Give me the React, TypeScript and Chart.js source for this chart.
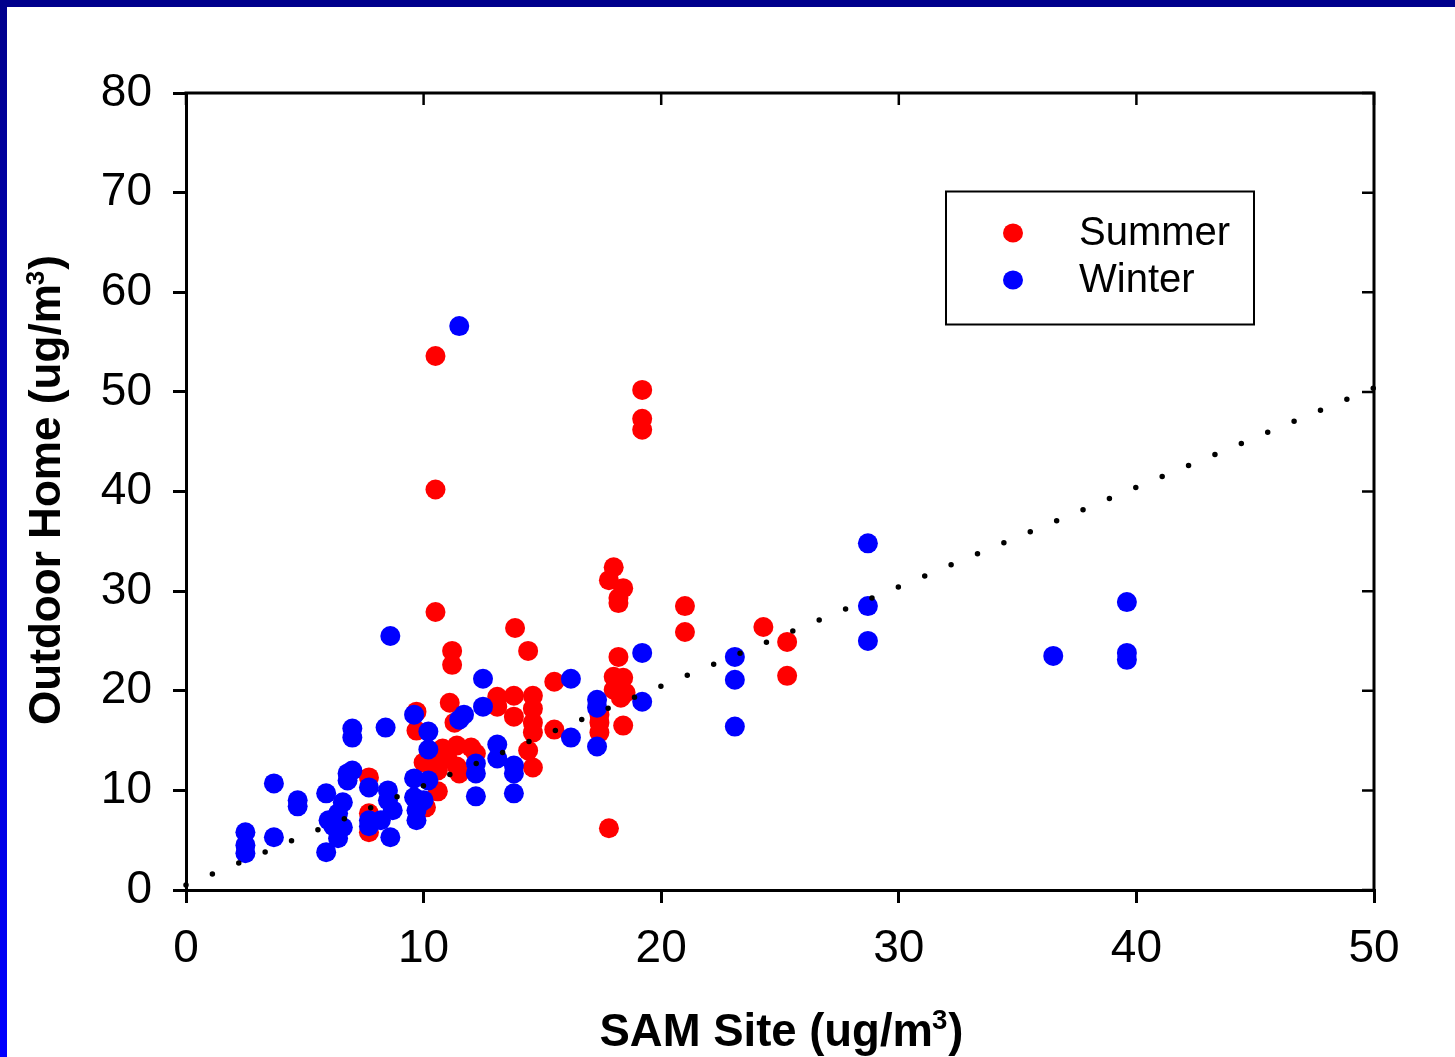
import React, { useEffect, useRef } from "react";
import { Chart, registerables } from "chart.js";

Chart.register(...registerables);

// ---- Data ----
const seriesLabels = ["Summer", "Winter"];

const summerX = [
  10.5, 10.5, 10.5, 11.2, 11.2, 13.85, 14.4, 19.2, 19.2, 19.2,
  18.0, 17.8, 18.4, 18.2, 18.2, 21.0, 21.0, 24.3, 25.3, 25.3,
  17.8, 15.5, 15.5, 18.2, 18.0, 18.4, 18.0, 18.5, 18.3, 17.4,
  17.4, 17.4, 18.4, 13.1, 13.1, 13.8, 14.6, 14.6, 13.8, 14.6,
  14.6, 14.4, 14.6, 11.1, 11.3, 9.7, 9.7, 10.3, 10.8, 11.4,
  12.0, 12.2, 11.4, 10.6, 10.0, 11.0, 11.5, 10.6, 10.1, 7.7,
  7.7, 7.7,
];
const summerY = [
  53.6, 40.2, 27.9, 24.0, 22.6, 26.3, 24.0, 50.2, 47.3, 46.2,
  32.4, 31.1, 30.3, 29.3, 28.8, 28.5, 25.9, 26.4, 24.9, 21.5,
  6.2, 20.9, 16.1, 23.4, 21.4, 21.3, 20.1, 19.8, 19.3, 17.6,
  16.8, 15.8, 16.5, 19.4, 18.4, 19.5, 19.5, 18.2, 17.4, 16.8,
  15.8, 14.0, 12.3, 18.8, 16.8, 17.9, 16.0, 13.0, 14.2, 14.5,
  14.3, 13.7, 12.4, 12.0, 12.8, 13.2, 11.7, 9.9, 8.3, 11.3,
  7.7, 5.8,
];

const winterX = [
  2.5, 2.5, 2.5, 3.7, 3.7, 4.7, 4.7, 5.9, 6.0, 6.2,
  5.9, 6.4, 6.6, 6.4, 6.6, 6.8, 7.0, 6.8, 7.0, 7.0,
  7.7, 7.7, 7.7, 8.2, 8.4, 8.5, 8.5, 8.7, 8.6, 8.6,
  9.6, 10.2, 10.2, 9.6, 10.2, 9.6, 10.0, 9.7, 9.7, 11.5,
  11.7, 11.5, 12.5, 12.5, 13.1, 13.1, 13.8, 13.8, 12.2, 12.2,
  12.2, 13.8, 16.2, 16.2, 17.3, 17.3, 17.3, 19.2, 19.2, 23.1,
  23.1, 23.1, 28.7, 28.7, 28.7, 36.5, 39.6, 39.6, 39.6,
];
const winterY = [
  5.8, 4.5, 3.7, 10.7, 5.3, 9.0, 8.4, 9.7, 7.0, 6.4,
  3.8, 7.7, 6.3, 5.2, 8.8, 11.7, 12.0, 11.0, 16.2, 15.3,
  10.3, 7.0, 6.4, 7.0, 16.3, 10.0, 9.0, 8.0, 25.5, 5.3,
  17.6, 15.9, 14.1, 11.2, 11.0, 9.3, 9.0, 8.0, 7.0, 56.6,
  17.6, 17.1, 21.2, 18.4, 14.6, 13.2, 12.5, 11.7, 12.7, 11.7,
  9.4, 9.7, 21.2, 15.3, 19.1, 18.3, 14.4, 23.8, 18.9, 23.4,
  21.1, 16.4, 34.8, 28.5, 25.0, 23.5, 28.9, 23.8, 23.1,
];

const trendX = [0, 50];
const trendY = [0.5, 50.4];

const xTickValues = [0, 10, 20, 30, 40, 50];
const yTickValues = [0, 10, 20, 30, 40, 50, 60, 70, 80];

const xTitleMain = "SAM Site (ug/m";
const yTitleMain = "Outdoor Home (ug/m";
const titleSup = "3";
const titleEnd = ")";

const FONT = "'Liberation Sans', Arial, Helvetica, sans-serif";
const CANVAS_W = 1448;
const CANVAS_H = 1050;

function drawTitle(
  ctx: CanvasRenderingContext2D,
  main: string,
  size: number,
  targetLen: number | null
) {
  const supSize = Math.round(size * 0.6);
  ctx.font = `bold ${size}px ${FONT}`;
  const w1 = ctx.measureText(main).width;
  const w3 = ctx.measureText(titleEnd).width;
  ctx.font = `bold ${supSize}px ${FONT}`;
  const w2 = ctx.measureText(titleSup).width;
  const total = w1 + w2 + w3;
  const sx = targetLen ? targetLen / total : 1;
  ctx.scale(sx, 1);
  let x = -total / 2;
  ctx.textAlign = "left";
  ctx.textBaseline = "alphabetic";
  ctx.fillStyle = "#000";
  ctx.font = `bold ${size}px ${FONT}`;
  ctx.fillText(main, x, 0);
  x += w1;
  ctx.font = `bold ${supSize}px ${FONT}`;
  ctx.fillText(titleSup, x - 1, -size * 0.36);
  x += w2;
  ctx.font = `bold ${size}px ${FONT}`;
  ctx.fillText(titleEnd, x, 0);
}

const overlayPlugin = {
  id: "overlay",
  afterDraw(chart: any) {
    const ctx: CanvasRenderingContext2D = chart.ctx;
    const { left, right, top, bottom } = chart.chartArea;
    const xs = chart.scales.x;
    const ys = chart.scales.y;
    ctx.save();
    // top and right frame with inward ticks
    ctx.strokeStyle = "#000";
    ctx.lineWidth = 3;
    ctx.beginPath();
    ctx.moveTo(left - 1.5, top);
    ctx.lineTo(right, top);
    ctx.lineTo(right, bottom + 1.5);
    ctx.stroke();
    ctx.lineWidth = 2.5;
    ctx.beginPath();
    for (const v of yTickValues) {
      const py = ys.getPixelForValue(v);
      ctx.moveTo(right - 12, py);
      ctx.lineTo(right, py);
    }
    for (const v of xTickValues) {
      const px = xs.getPixelForValue(v);
      ctx.moveTo(px, top);
      ctx.lineTo(px, top + 12);
    }
    ctx.stroke();

    // legend box
    const bx = 939, by = 184.5, bw = 308, bh = 133;
    ctx.lineWidth = 2;
    ctx.strokeRect(bx, by, bw, bh);
    const colors = ["#ff0000", "#0000ff"];
    const rowY = [226, 273];
    ctx.font = `40px ${FONT}`;
    ctx.textAlign = "left";
    ctx.textBaseline = "middle";
    seriesLabels.forEach((lab, i) => {
      ctx.fillStyle = colors[i];
      ctx.beginPath();
      ctx.ellipse(1006, rowY[i], 10, 9.5, 0, 0, Math.PI * 2);
      ctx.fill();
      ctx.fillStyle = "#000";
      ctx.fillText(lab, 1072, rowY[i] + 1);
    });
    ctx.restore();

    // x axis title
    ctx.save();
    ctx.translate((left + right) / 2 + 1.5, 1039);
    drawTitle(ctx, xTitleMain, 46, 364);
    ctx.restore();

    // y axis title
    ctx.save();
    ctx.translate(53, (top + bottom) / 2 - 1.5);
    ctx.rotate(-Math.PI / 2);
    drawTitle(ctx, yTitleMain, 44, 470);
    ctx.restore();
  },
};

export default function App() {
  const canvasRef = useRef<HTMLCanvasElement | null>(null);

  useEffect(() => {
    const canvas = canvasRef.current;
    if (!canvas) return;
    const tickFont = { family: FONT, size: 46 };
    const chart = new Chart(canvas, {
      type: "scatter",
      data: {
        datasets: [
          {
            label: seriesLabels[0],
            data: summerX.map((x, i) => ({ x, y: summerY[i] })),
            backgroundColor: "#ff0000",
            borderColor: "#ff0000",
            borderWidth: 0,
            pointRadius: 10,
            pointHoverRadius: 10,
            order: 2,
          },
          {
            label: seriesLabels[1],
            data: winterX.map((x, i) => ({ x, y: winterY[i] })),
            backgroundColor: "#0000ff",
            borderColor: "#0000ff",
            borderWidth: 0,
            pointRadius: 10,
            pointHoverRadius: 10,
            order: 1,
          },
          {
            type: "line",
            label: "trend",
            data: trendX.map((x, i) => ({ x, y: trendY[i] })),
            borderColor: "#000",
            borderWidth: 5.5,
            borderDash: [0, 28.6],
            borderCapStyle: "round",
            pointRadius: 0,
            fill: false,
            clip: false,
            order: 0,
          } as any,
        ],
      },
      options: {
        responsive: false,
        animation: false,
        devicePixelRatio: 1,
        events: [],
        layout: { padding: { top: 86, right: 81, left: 0, bottom: 0 } },
        plugins: {
          legend: { display: false },
          tooltip: { enabled: false },
        },
        scales: {
          x: {
            type: "linear",
            min: 0,
            max: 50,
            afterFit: (s: any) => {
              s.height = 167;
            },
            afterBuildTicks: (s: any) => {
              s.ticks = xTickValues.map((v) => ({ value: v }));
            },
            ticks: { font: tickFont, color: "#000", padding: 19, maxRotation: 0 },
            grid: {
              drawOnChartArea: false,
              drawTicks: true,
              tickLength: 13,
              color: "#000",
              lineWidth: 3,
            },
            border: { display: true, color: "#000", width: 3 },
          },
          y: {
            type: "linear",
            min: 0,
            max: 80,
            afterFit: (s: any) => {
              s.width = 179;
            },
            afterBuildTicks: (s: any) => {
              s.ticks = yTickValues.map((v) => ({ value: v }));
            },
            ticks: { font: tickFont, color: "#000", padding: 21 },
            grid: {
              drawOnChartArea: false,
              drawTicks: true,
              tickLength: 13,
              color: "#000",
              lineWidth: 3,
            },
            border: { display: true, color: "#000", width: 3 },
          },
        },
      } as any,
      plugins: [overlayPlugin],
    });
    return () => chart.destroy();
  }, []);

  return (
    <div
      style={{
        position: "fixed",
        left: 0,
        top: 0,
        width: 1455,
        height: 1057,
        background: "linear-gradient(to bottom, #00008c, #0000ff)",
        overflow: "hidden",
      }}
    >
      <div
        style={{
          position: "absolute",
          left: 7,
          top: 7,
          width: CANVAS_W,
          height: CANVAS_H,
          background: "#ffffff",
        }}
      >
        <canvas
          ref={canvasRef}
          width={CANVAS_W}
          height={CANVAS_H}
          style={{ display: "block", width: CANVAS_W, height: CANVAS_H }}
        />
      </div>
    </div>
  );
}
